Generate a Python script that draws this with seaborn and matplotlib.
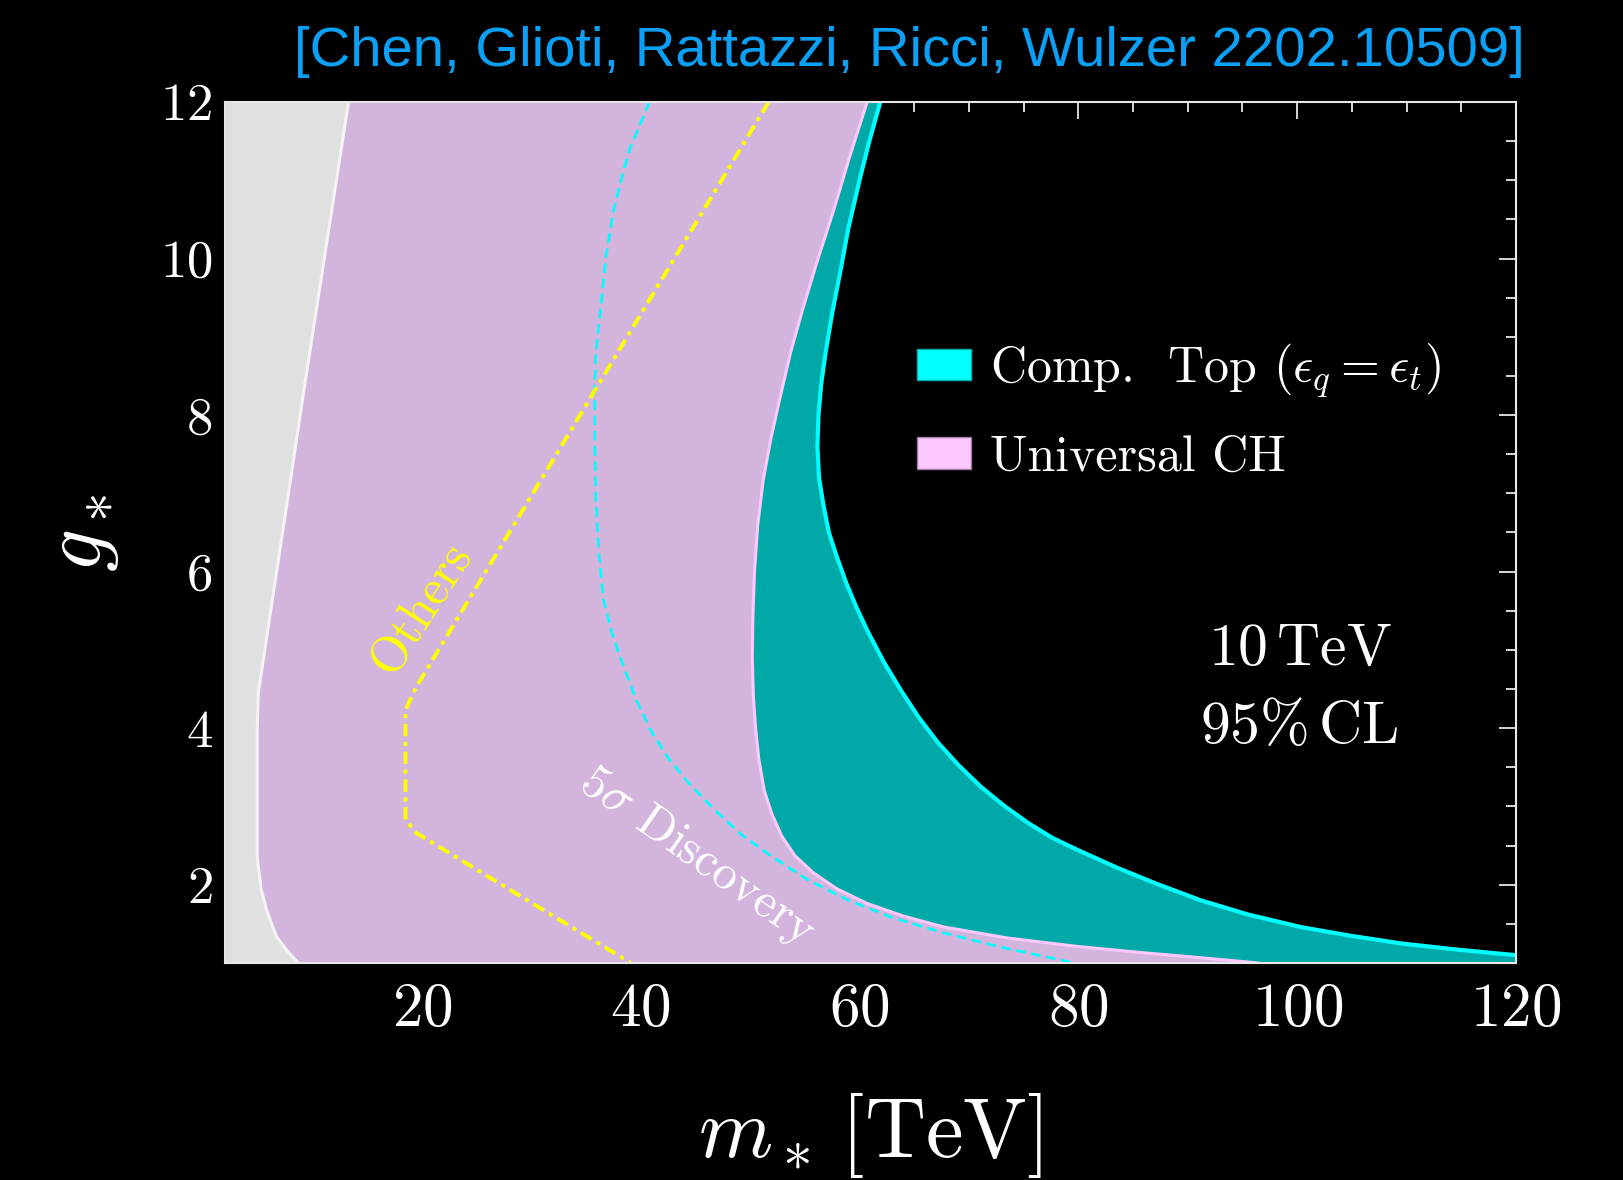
import matplotlib
matplotlib.use("Agg")
import matplotlib.pyplot as plt
import seaborn as sns
from matplotlib.patches import Patch
from matplotlib.ticker import MultipleLocator

# Boundaries (m_* in TeV vs g_*)
grey_m = [13.3, 11.3, 9.2, 7.7, 6.4, 5.05, 4.95, 4.95, 5.3, 5.8, 6.7, 7.6, 8.7]
grey_g = [12.0, 10.2, 8.3, 6.9, 5.7, 4.45, 4.0, 2.35, 1.95, 1.68, 1.34, 1.17, 1.0]

# Universal CH (pink) boundary
ch_m = [60.7, 59.1, 57.6, 56.1, 54.8, 53.7, 52.7, 51.9, 51.2, 50.7, 50.4, 50.25, 50.2,
        50.3, 50.5, 50.8, 51.3, 52.0, 52.9, 54.1, 55.8, 57.9, 60.7, 64.0, 67.7, 73.5,
        80.0, 86.0, 91.0, 96.5]
ch_g = [12.0, 11.3, 10.6, 9.95, 9.35, 8.8, 8.2, 7.7, 7.17, 6.6, 6.0, 5.4, 4.9,
        4.4, 4.0, 3.6, 3.2, 2.9, 2.62, 2.37, 2.15, 1.95, 1.76, 1.6, 1.46, 1.32,
        1.21, 1.13, 1.07, 1.0]

# Composite top (cyan) boundary
top_m = [61.9, 60.9, 60.0, 59.0, 58.2, 57.5, 56.9, 56.5, 56.25, 56.15, 56.3, 56.7, 57.2,
         57.9, 58.8, 59.7, 60.7, 62.2, 63.8, 65.4, 67.2, 69.1, 71.1, 73.2, 75.4, 77.6,
         80.0, 83.5, 87.0, 91.2, 95.5, 100.3, 104.8, 109.5, 114.7, 120.0]
top_g = [12.0, 11.5, 11.0, 10.4, 9.8, 9.3, 8.8, 8.4, 8.0, 7.6, 7.2, 6.85, 6.5,
         6.2, 5.85, 5.55, 5.25, 4.85, 4.48, 4.14, 3.81, 3.52, 3.25, 3.01, 2.79, 2.6,
         2.44, 2.22, 2.02, 1.8, 1.62, 1.46, 1.35, 1.25, 1.17, 1.1]

# 5 sigma discovery (dashed cyan)
disc_m = [40.8, 39.9, 39.0, 38.2, 37.5, 36.8, 36.3, 35.9, 35.8, 35.8, 35.9, 36.2, 36.6,
          37.4, 38.4, 39.6, 41.0, 42.6, 44.5, 46.8, 49.2, 52.0, 55.3, 59.0, 63.0, 67.8,
          73.0, 79.0, 79.6]
disc_g = [12.0, 11.7, 11.4, 11.0, 10.6, 10.0, 9.3, 8.8, 8.4, 7.6, 6.9, 6.2, 5.64,
          5.2, 4.8, 4.36, 3.95, 3.6, 3.28, 2.95, 2.64, 2.36, 2.06, 1.8, 1.58, 1.38,
          1.2, 1.02, 1.0]

# "Others" (yellow dash-dot)
oth_m = [51.7, 19.5, 18.5, 18.5, 19.5, 39.1]
oth_g = [12.0, 4.53, 4.23, 2.83, 2.66, 1.0]

x_lim = (2, 120)
y_lim = (1, 12)

PURPLE = "#d2b4dc"
TEAL = "#00a8a8"
GREY = "#e0e0e0"

sns.set_style("ticks")
plt.rcParams["font.family"] = ["cmr10", "DejaVu Serif"]
plt.rcParams["mathtext.fontset"] = "cm"
plt.rcParams["axes.formatter.use_mathtext"] = True
plt.rcParams["lines.scale_dashes"] = False

fig, ax = plt.subplots(figsize=(16.24, 11.8), dpi=100)
fig.patch.set_facecolor("black")
ax.set_facecolor("black")
fig.subplots_adjust(left=0.1385, right=0.9335, top=0.9136, bottom=0.1839)

# filled regions
ax.fill([x_lim[0]] + ch_m + [x_lim[0]], [y_lim[1]] + ch_g + [y_lim[0]],
        color=PURPLE, lw=0, zorder=1)
ax.fill(ch_m + [x_lim[1]] + top_m[::-1], ch_g + [y_lim[0]] + top_g[::-1],
        color=TEAL, lw=0, zorder=1)
ax.fill([x_lim[0]] + grey_m + [x_lim[0]], [y_lim[1]] + grey_g + [y_lim[0]],
        color=GREY, lw=0, zorder=1)

# boundary lines
sns.lineplot(x=grey_m, y=grey_g, sort=False, estimator=None, color="#f4f4f4", lw=2.2, ax=ax)
sns.lineplot(x=ch_m, y=ch_g, sort=False, estimator=None, color="#ffc8ff", lw=2.2, ax=ax)
sns.lineplot(x=top_m, y=top_g, sort=False, estimator=None, color="#00ffff", lw=3.0, ax=ax)
sns.lineplot(x=disc_m, y=disc_g, sort=False, estimator=None, color="#00ffff", lw=1.9, ax=ax)
ax.lines[-1].set_dashes([7, 4])
sns.lineplot(x=oth_m, y=oth_g, sort=False, estimator=None, color="#ffff00", lw=2.8, ax=ax)
ax.lines[-1].set_dashes([9, 4, 3, 4])

ax.set_xlim(*x_lim)
ax.set_ylim(*y_lim)

# annotations
ax.text(100.2, 4.81, r"10$\,$TeV", ha="center", va="baseline", fontsize=43, color="white")
ax.text(100.2, 3.81, r"95%$\,$CL", ha="center", va="baseline", fontsize=43, color="white")
ax.text(20.0, 5.53, "Others", rotation=57, rotation_mode="anchor", ha="center",
        va="center", fontsize=36, color="#ffff00")
ax.text(45.1, 2.35, r"5$\sigma$ Discovery", rotation=-35, rotation_mode="anchor",
        ha="center", va="center", fontsize=35, color="white")

handles = [
    Patch(facecolor="#00ffff", edgecolor="#00b4b4", label=r"Comp.  Top ($\epsilon_q = \epsilon_t$)"),
    Patch(facecolor="#ffc8ff", edgecolor="#a078a0", label="Universal CH"),
]
ax.legend(handles=handles, loc="upper left", bbox_to_anchor=(917 / 1624, 1 - 341 / 1180),
          bbox_transform=fig.transFigure, frameon=False, fontsize=36, labelcolor="white",
          handlelength=1.07, handleheight=0.6, handletextpad=0.38, labelspacing=0.7,
          borderpad=0, borderaxespad=0)

# axes styling
ax.xaxis.set_major_locator(MultipleLocator(20))
ax.xaxis.set_minor_locator(MultipleLocator(5))
ax.yaxis.set_major_locator(MultipleLocator(2))
ax.yaxis.set_minor_locator(MultipleLocator(0.5))
ax.tick_params(which="both", direction="in", top=True, right=True, color="#e8e8e8", width=1.3)
ax.tick_params(which="major", length=12)
ax.tick_params(which="minor", length=7)
ax.tick_params(axis="x", labelsize=44, pad=14, labelcolor="white")
ax.tick_params(axis="y", labelsize=38, pad=9, labelcolor="white")
for sp in ax.spines.values():
    sp.set_color("#e8e8e8")
    sp.set_linewidth(1.5)

ax.set_xlabel(r"$m_*\,$[TeV]", fontsize=61, color="white", labelpad=38)
ax.set_ylabel(r"$g_*$", fontsize=61, color="white", labelpad=28)

fig.text(1525 / 1624, 1 - 66 / 1180, "[Chen, Glioti, Rattazzi, Ricci, Wulzer 2202.10509]",
         ha="right", va="baseline", fontsize=40.5, color="#0aa0f5", family="Liberation Sans")

fig.savefig("out.png", dpi=100, facecolor="black")
